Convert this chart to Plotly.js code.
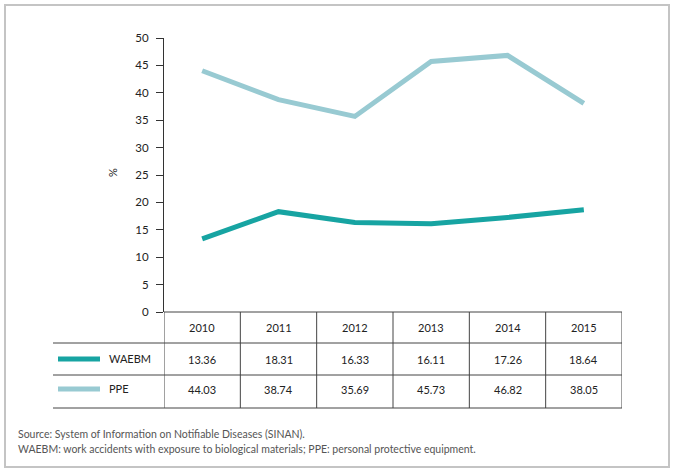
<!DOCTYPE html>
<html>
<head>
<meta charset="utf-8">
<script src="https://cdn.plot.ly/plotly-3.0.1.min.js"></script>
<style>html,body{margin:0;padding:0;background:#fff;}#chart{width:674px;height:471px;}</style>
</head>
<body>
<div id="chart"></div>
<script>
const years = ['2010', '2011', '2012', '2013', '2014', '2015'];
const waebm = [13.36, 18.31, 16.33, 16.11, 17.26, 18.64];
const ppe = [44.03, 38.74, 35.69, 45.73, 46.82, 38.05];
const seriesNames = ['WAEBM', 'PPE'];
const yTicks = [0, 5, 10, 15, 20, 25, 30, 35, 40, 45, 50];
const footnotes = [
  'Source: System of Information on Notifiable Diseases (SINAN).',
  'WAEBM: work accidents with exposure to biological materials; PPE: personal protective equipment.'
];

const W = 674, H = 471;
const px = x => x / W;
const py = y => 1 - y / H;
const colors = ['#17a4a2', '#98cad2'];
const FONT = 'Lato, "Open Sans", sans-serif';
const idx = years.map((_, i) => i);
const series = [waebm, ppe];

const traces = series.map((vals, s) => ({
  type: 'scatter', mode: 'lines', x: idx, y: vals, name: seriesNames[s],
  line: {color: colors[s], width: 5}, hoverinfo: 'skip', showlegend: false
}));

const tableLeft = 53, tableRight = 622, axisLeft = 164;
const rowLines = [343, 375, 408];
const tableTop = 312;
const rowCenters = [327, 359, 389];
const lineCol = '#444';

const shapes = [];
shapes.push({type: 'rect', xref: 'paper', yref: 'paper', x0: px(5), x1: px(669), y0: py(5), y1: py(467),
  line: {color: '#c4c4c4', width: 2}});
shapes.push({type: 'line', xref: 'paper', yref: 'paper', x0: px(axisLeft), x1: px(tableRight), y0: py(tableTop), y1: py(tableTop), line: {color: lineCol, width: 1}});
rowLines.forEach(y => shapes.push({type: 'line', xref: 'paper', yref: 'paper', x0: px(tableLeft), x1: px(tableRight), y0: py(y), y1: py(y), line: {color: lineCol, width: 1}}));
for (let i = 0; i <= years.length; i++) {
  shapes.push({type: 'line', xref: 'x', yref: 'paper', x0: i - 0.5, x1: i - 0.5, y0: py(tableTop), y1: py(408), line: {color: lineCol, width: 1}});
}
seriesNames.forEach((n, s) => shapes.push({type: 'line', xref: 'paper', yref: 'paper', x0: px(58), x1: px(100), y0: py(rowCenters[s + 1]), y1: py(rowCenters[s + 1]), line: {color: colors[s], width: 5}}));

const annotations = [];
const tf = {family: FONT, size: 11, color: '#222'};
years.forEach((yr, i) => {
  annotations.push({xref: 'x', yref: 'paper', x: i, y: py(rowCenters[0]), text: yr, showarrow: false, font: tf, xanchor: 'center', yanchor: 'middle'});
  series.forEach((vals, s) => annotations.push({xref: 'x', yref: 'paper', x: i, y: py(rowCenters[s + 1]), text: vals[i].toFixed(2), showarrow: false, font: tf, xanchor: 'center', yanchor: 'middle'}));
});
seriesNames.forEach((n, s) => annotations.push({xref: 'paper', yref: 'paper', x: px(107), y: py(rowCenters[s + 1] - 1), text: n, showarrow: false, font: tf, xanchor: 'left', yanchor: 'middle'}));
annotations.push({xref: 'paper', yref: 'paper', x: px(113), y: py(172), text: '%', textangle: -90, showarrow: false, font: {family: FONT, size: 11, color: '#222'}, xanchor: 'center', yanchor: 'middle'});
footnotes.forEach((t, k) => annotations.push({xref: 'paper', yref: 'paper', x: px(16), y: py(434 + k * 15), text: t, showarrow: false, font: {family: FONT, size: 10.5, color: '#555'}, xanchor: 'left', yanchor: 'middle'}));

const layout = {
  width: W, height: H,
  margin: {l: 0, r: 0, t: 0, b: 0},
  paper_bgcolor: '#fff', plot_bgcolor: '#fff',
  showlegend: false,
  xaxis: {domain: [px(axisLeft), px(tableRight)], range: [-0.5, years.length - 0.5], visible: false, fixedrange: true},
  yaxis: {domain: [py(tableTop), py(38)], range: [0, 50], tickvals: yTicks, ticks: 'outside', ticklen: 7, tickcolor: '#333',
    ticklabelstandoff: 5,
    showline: true, linecolor: '#333', linewidth: 1, showgrid: false, zeroline: false,
    tickfont: {family: FONT, size: 11.5, color: '#222'}, fixedrange: true},
  shapes: shapes,
  annotations: annotations
};

Plotly.newPlot('chart', traces, layout, {displayModeBar: false, staticPlot: true});
</script>
</body>
</html>
